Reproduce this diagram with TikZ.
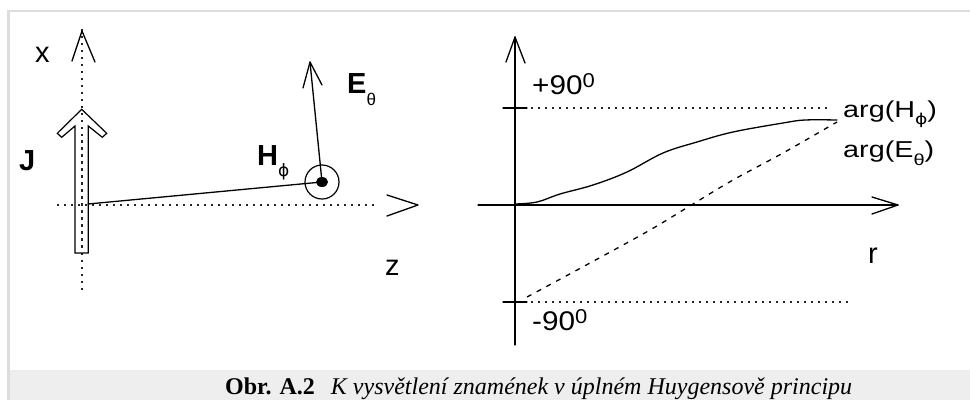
\documentclass[tikz,border=0pt]{standalone}
\usepackage{fontspec}
\usetikzlibrary{shapes.geometric}
\setmainfont{Liberation Serif}
\newfontfamily\labfont{Liberation Sans}
\newfontfamily\grfont{DejaVu Sans}
\newcommand{\fsz}[1]{\fontsize{#1}{#1}\selectfont}
\definecolor{framegray}{HTML}{DDDDDD}
\definecolor{capgray}{HTML}{EEEEEE}
\tikzset{
  mainline/.style={line width=1.3pt, line cap=round, line join=round},
  dotline/.style={line width=1.6pt, dash pattern=on 1.6pt off 5.4pt, black!85},
  dashline/.style={line width=1.3pt, dash pattern=on 5pt off 6pt},
  lab/.style={inner sep=0pt, anchor=base west, font=\labfont\fsz{29}},
  blab/.style={inner sep=0pt, anchor=base west, font=\labfont\bfseries\fsz{29}},
  alab/.style={inner sep=0pt, anchor=base west, font=\labfont\fsz{27}},
  glab/.style={inner sep=0pt, anchor=base west, font=\labfont\fsz{23}},
  captext/.style={inner sep=0pt, anchor=base west, font=\fsz{24}}
}
\begin{document}
\begin{tikzpicture}[x=1pt,y=-1pt]
\useasboundingbox (0,0) rectangle (970,400);
% frame and caption band
\fill[capgray] (10,370) rectangle (970,400);
\draw[framegray, line width=2pt] (7,11) -- (970,11);
\draw[framegray, line width=3pt] (8.5,10) -- (8.5,400);
\node[captext] (cap) at (225,394) {\textbf{Obr. A.2}\hspace{16pt}\textit{K vysvětlení znamének v úplném Huygensově principu}};

% ---------- left panel ----------
\coordinate (xbot) at (82,290);
\coordinate (xtop) at (82,27);
\coordinate (zleft) at (57,205);
\coordinate (zright) at (376,205);
\draw[dotline] (xbot) -- (xtop);
\draw[dotline] (zleft) -- (zright);
% x axis open arrow head
\coordinate (xap) at (82,31);
\draw[mainline] (72,61) -- (xap) -- (95,62);
% z axis open arrow head
\coordinate (zap) at (418,205);
\draw[mainline] (387,195) -- (zap) -- (387,216);
% hollow current arrow J
\draw[line width=1.2pt, line join=miter] (75,253) -- (75,126) -- (61.7,137.3) -- (57.3,133.3) -- (81.7,109.3)
  -- (106.7,133.3) -- (102.3,137.3) -- (88.3,126) -- (88.3,253) -- cycle;
\draw[dotline] (82,140) -- (82,250);
% field point
\coordinate (src) at (88,204);
\node[circle, draw, line width=1.2pt, minimum size=34pt, inner sep=0pt] (ring) at (322,182) {};
\node[ellipse, fill=black, minimum width=12pt, minimum height=10pt, inner sep=0pt] (dot) at (322,182) {};
\draw[mainline] (src) -- (dot.center);
% E vector
\coordinate (Etip) at (310,62);
\draw[mainline] (dot.center) -- (Etip);
\draw[mainline] (303,88) -- (Etip) -- (322,85);
% labels
\node[lab] (xl) at (35,62) {x};
\node[lab] (zl) at (385,275) {z};
\node[blab] (Jl) at (19,170) {J};
\node[blab] (El) at (347,93) {E\raisebox{-12pt}{\mdseries\fsz{17}θ}};
\node[blab] (Hl) at (257,165) {H\raisebox{-11pt}{\mdseries\grfont\fsz{17}ϕ}};

% ---------- right panel ----------
\coordinate (vbot) at (515,345);
\coordinate (vtop) at (515,37);
\coordinate (hleft) at (478,205);
\coordinate (hright) at (898,205);
\draw[mainline] (vbot) -- (vtop);
\draw[mainline] (506,62) -- (vtop) -- (525,63);
\draw[mainline] (hleft) -- (hright);
\draw[mainline] (872,197) -- (hright) -- (872,214);
% ticks and levels
\draw[mainline] (503,108) -- (527,108);
\draw[mainline] (503,302) -- (527,302);
\draw[dotline] (531,108) -- (830,108);
\draw[dotline] (531,302) -- (848,302);
% curves
\draw[mainline] plot[smooth, tension=0.6] coordinates {(515,204) (537,202) (560,194) (593,185) (627,172) (663,153) (697,142) (733,132) (783,123) (805,120) (837,120)};
\draw[dashline] plot[smooth, tension=0.6] coordinates {(527,297) (590,263) (650,230) (693,204) (733,180) (783,153) (837,122)};
% labels
\node[alab] (p90) at (532,94) {\scalebox{1.1}[1]{+90\raisebox{7pt}{\fsz{20}0}}};
\node[alab] (m90) at (532,330) {\scalebox{1.1}[1]{-90\raisebox{7pt}{\fsz{20}0}}};
\node[lab] (rl) at (868,263) {r};
\node[glab] (aH) at (843,117) {\scalebox{1.25}[1]{arg(H\raisebox{-7pt}{\grfont\fsz{15}ϕ})}};
\node[glab] (aE) at (843,157) {\scalebox{1.25}[1]{arg(E\raisebox{-8pt}{\fsz{16}θ})}};
\end{tikzpicture}
\end{document}
